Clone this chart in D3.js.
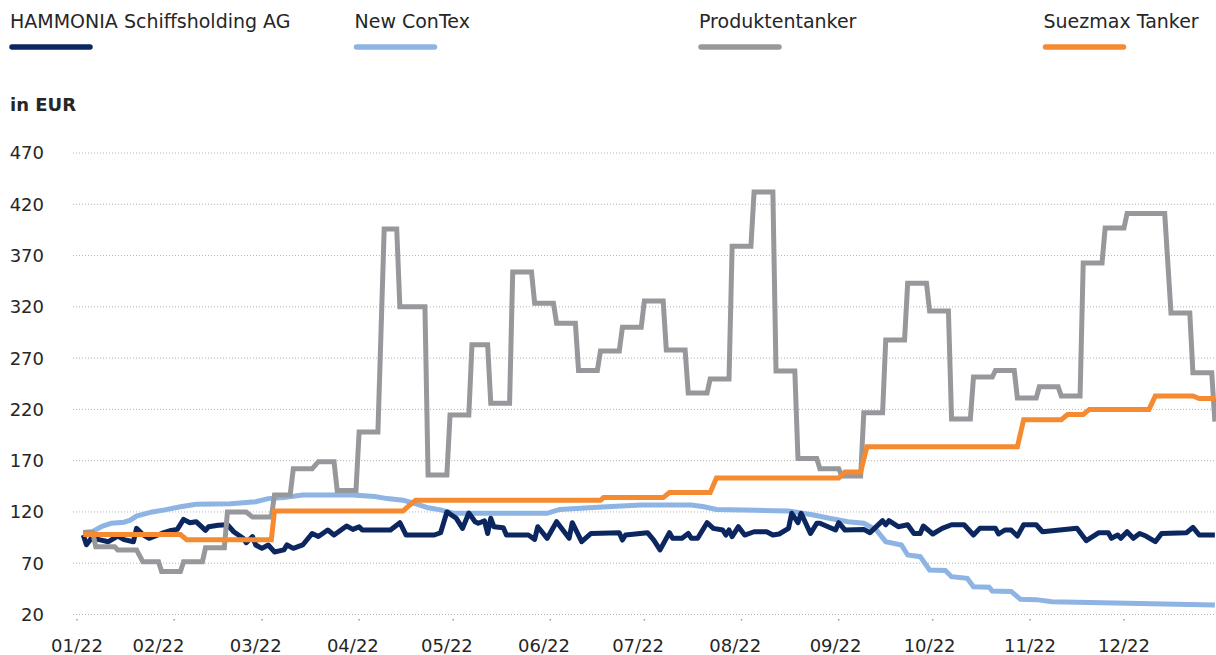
<!DOCTYPE html>
<html>
<head>
<meta charset="utf-8">
<script src="https://cdn.jsdelivr.net/npm/d3@7"></script>
<style>
  body { margin: 0; background: #fff; }
  svg { display: block; font-family: "DejaVu Sans", Verdana, sans-serif; }
  .tick-label { font-size: 18px; fill: #262626; }
  .legend text { font-size: 19px; fill: #262626; }
</style>
</head>
<body>
<div id="chart"></div>
<script>
var width = 1216;
var height = 655;

// legend / series names
var seriesNames = ["HAMMONIA Schiffsholding AG", "New ConTex", "Produktentanker", "Suezmax Tanker"];
var seriesColors = ["#0c2660", "#8db4e2", "#97989b", "#f68a31"];

// axis labels
var yTicks = [20, 70, 120, 170, 220, 270, 320, 370, 420, 470];
var monthLabels = ["01/22", "02/22", "03/22", "04/22", "05/22", "06/22", "07/22", "08/22", "09/22", "10/22", "11/22", "12/22"];
var monthLabelDates = ["01-01", "01-27", "02-27", "03-30", "04-29", "05-30", "06-29", "07-30", "08-31", "09-30", "11-01", "12-01"];

// values in EUR, [month-day, value], year 2022
var hammonia = [
    ["01-03", 97.5], ["01-04", 88], ["01-06", 96], ["01-08", 93], ["01-11", 91], ["01-14", 96.5],
    ["01-16", 93], ["01-19", 91], ["01-20", 104], ["01-22", 98], ["01-24", 94.3], ["01-28", 99],
    ["01-31", 102], ["02-02", 103], ["02-04", 112.8], ["02-06", 109.5], ["02-08", 110.5], ["02-11", 102],
    ["02-12", 105.6], ["02-15", 107], ["02-18", 107.5], ["02-20", 100.7], ["02-23", 94.3], ["02-24", 90],
    ["02-26", 96], ["02-27", 87.8], ["03-01", 84.5], ["03-03", 87.8], ["03-05", 81], ["03-08", 83],
    ["03-09", 87.8], ["03-11", 84.5], ["03-14", 87.8], ["03-17", 99], ["03-19", 96], ["03-22", 102.4],
    ["03-24", 97.5], ["03-28", 106.3], ["03-30", 103], ["04-01", 105.5], ["04-02", 102.4], ["04-11", 102.4],
    ["04-14", 109.5], ["04-16", 97.5], ["04-25", 97.5], ["04-27", 99.7], ["04-29", 120], ["05-02", 113.8],
    ["05-04", 104], ["05-06", 119], ["05-08", 110.5], ["05-09", 109], ["05-11", 111.3], ["05-12", 99],
    ["05-13", 113.8], ["05-14", 105.6], ["05-17", 104.6], ["05-18", 97.5], ["05-25", 97.5], ["05-27", 93.3],
    ["05-28", 105.6], ["05-31", 94.3], ["06-03", 110.5], ["06-05", 102.4], ["06-07", 94.3], ["06-08", 109.5],
    ["06-11", 91], ["06-14", 99], ["06-23", 99.8], ["06-24", 92.6], ["06-25", 97.5], ["07-02", 99.8],
    ["07-04", 92.6], ["07-06", 83], ["07-09", 99.8], ["07-10", 94.3], ["07-13", 94.3], ["07-15", 99],
    ["07-16", 94.3], ["07-18", 94.3], ["07-21", 109.5], ["07-23", 104], ["07-26", 102.4], ["07-27", 97.5],
    ["07-28", 102.4], ["07-29", 96], ["07-31", 105.6], ["08-02", 97.5], ["08-05", 100.7], ["08-09", 100.7],
    ["08-11", 97.5], ["08-13", 98.5], ["08-16", 104], ["08-17", 118.7], ["08-19", 109.5], ["08-20", 118.7],
    ["08-23", 99], ["08-25", 109], ["08-26", 109], ["08-31", 102.4], ["09-01", 109.5], ["09-03", 102.4],
    ["09-09", 103], ["09-11", 99.8], ["09-15", 111.5], ["09-16", 107.5], ["09-17", 111.5], ["09-20", 105.6],
    ["09-23", 107.5], ["09-25", 99], ["09-27", 99], ["09-28", 106.3], ["10-01", 98.5], ["10-04", 104],
    ["10-07", 107.5], ["10-11", 107.5], ["10-14", 97.5], ["10-16", 104], ["10-21", 104], ["10-22", 98.5],
    ["10-24", 102.4], ["10-26", 102.4], ["10-28", 96.5], ["10-30", 107.5], ["11-03", 107.5], ["11-05", 100.7],
    ["11-16", 104], ["11-19", 92], ["11-23", 99.8], ["11-26", 99.8], ["11-27", 94.3], ["11-29", 97.5],
    ["11-30", 94.3], ["12-02", 100.7], ["12-04", 94.3], ["12-06", 99], ["12-08", 96.5], ["12-11", 91],
    ["12-13", 99], ["12-21", 99.8], ["12-23", 105], ["12-25", 97.5], ["12-30", 97.5]
];

var contex = [
    ["01-03", 100], ["01-06", 101], ["01-09", 106], ["01-12", 109], ["01-16", 110], ["01-18", 112],
    ["01-20", 116], ["01-25", 120], ["01-29", 122], ["02-03", 125], ["02-08", 127.5], ["02-19", 128],
    ["02-27", 130], ["03-03", 133], ["03-08", 134], ["03-14", 136.5], ["03-30", 136.5], ["04-06", 135],
    ["04-10", 133], ["04-15", 131.5], ["04-19", 128], ["04-23", 124], ["04-27", 122], ["05-01", 118.7],
    ["05-31", 118.7], ["06-04", 122.5], ["06-19", 125], ["06-30", 126.7], ["07-16", 126.7], ["07-20", 125],
    ["07-24", 122.5], ["08-06", 121.6], ["08-16", 121], ["08-24", 117], ["08-29", 113.8], ["09-04", 110.5],
    ["09-09", 109], ["09-13", 102.4], ["09-16", 91], ["09-21", 87.8], ["09-23", 78], ["09-27", 76.4],
    ["09-30", 63.4], ["10-05", 63], ["10-07", 56.9], ["10-12", 55.3], ["10-14", 47], ["10-19", 46.6],
    ["10-20", 42.9], ["10-26", 42.5], ["10-29", 34.8], ["11-03", 34.5], ["11-08", 32.5], ["12-30", 29.3]
];

var produkt = [
    ["01-03", 100], ["01-06", 100], ["01-07", 86], ["01-13", 86], ["01-14", 83], ["01-20", 83],
    ["01-22", 71.5], ["01-27", 71.5], ["01-28", 62], ["02-03", 62], ["02-04", 71.5], ["02-10", 71.5],
    ["02-11", 85], ["02-17", 85], ["02-18", 120], ["02-24", 120], ["02-26", 115], ["03-04", 115],
    ["03-05", 136.5], ["03-10", 136.5], ["03-11", 162], ["03-17", 162], ["03-19", 169], ["03-24", 169],
    ["03-25", 141], ["03-31", 141], ["04-01", 198], ["04-07", 198], ["04-09", 396], ["04-13", 396],
    ["04-14", 320], ["04-22", 320], ["04-23", 156], ["04-29", 156], ["04-30", 214.5], ["05-06", 214.5],
    ["05-07", 283], ["05-12", 283], ["05-13", 226], ["05-19", 226], ["05-20", 354], ["05-26", 354],
    ["05-27", 323.5], ["06-02", 323.5], ["06-03", 304], ["06-09", 304], ["06-10", 258], ["06-16", 258],
    ["06-17", 277], ["06-23", 277], ["06-24", 300], ["06-30", 300], ["07-01", 325.6], ["07-07", 325.6],
    ["07-08", 278], ["07-14", 278], ["07-15", 236], ["07-21", 236], ["07-22", 249.6], ["07-28", 249.6],
    ["07-29", 379], ["08-04", 379], ["08-05", 432], ["08-11", 432], ["08-12", 257.5], ["08-18", 257.5],
    ["08-19", 172], ["08-25", 172], ["08-26", 162], ["09-01", 162], ["09-02", 155], ["09-08", 155],
    ["09-09", 216.7], ["09-15", 216.7], ["09-16", 287.6], ["09-22", 287.6], ["09-23", 343], ["09-29", 343],
    ["09-30", 316], ["10-06", 316], ["10-07", 210.7], ["10-13", 210.7], ["10-14", 251.6], ["10-20", 251.6],
    ["10-21", 258], ["10-27", 258], ["10-28", 231], ["11-03", 231], ["11-04", 242], ["11-10", 242],
    ["11-11", 233], ["11-17", 233], ["11-18", 362.7], ["11-24", 362.7], ["11-25", 396.8], ["12-01", 396.8],
    ["12-02", 411], ["12-14", 411], ["12-16", 314], ["12-22", 314], ["12-23", 255.8], ["12-29", 255.8],
    ["12-30", 208]
];

var suezmax = [
    ["01-03", 98], ["02-03", 98], ["02-05", 93], ["03-04", 93], ["03-05", 121], ["04-15", 121],
    ["04-19", 131.5], ["06-17", 131.5], ["06-18", 134], ["07-07", 134], ["07-09", 139], ["07-22", 139],
    ["07-24", 153], ["09-01", 153], ["09-03", 159], ["09-08", 159], ["09-10", 183.5], ["10-28", 183.5],
    ["10-30", 210], ["11-11", 210], ["11-13", 215], ["11-18", 215], ["11-20", 220], ["12-09", 220],
    ["12-11", 233], ["12-23", 233], ["12-25", 230.5], ["12-30", 230.5]
];

var parseDay = function (s) { return d3.timeParse("%Y-%m-%d")("2022-" + s); };

var svg = d3.select("#chart")
    .append("svg")
    .attr("width", width)
    .attr("height", height);

// scale
var x = d3.scaleTime()
    .domain([new Date(2022, 0, 1), new Date(2022, 11, 31)])
    .range([77, 1218]);

var y = d3.scaleLinear()
    .domain([20, 470])
    .range([614.5, 153]);

// grid
svg.append("g")
    .selectAll("line")
    .data(yTicks)
    .join("line")
    .attr("x1", 73)
    .attr("x2", width)
    .attr("y1", d => y(d))
    .attr("y2", d => y(d))
    .attr("stroke", "#b4b4b4")
    .attr("stroke-width", 1)
    .attr("stroke-dasharray", "1,2");

// y labels
svg.append("g")
    .selectAll("text")
    .data(yTicks)
    .join("text")
    .attr("class", "tick-label")
    .attr("x", 44)
    .attr("y", d => y(d))
    .attr("dy", "0.36em")
    .attr("text-anchor", "end")
    .text(d => d);

// title---Y
svg.append("text")
    .attr("x", 10)
    .attr("y", 111)
    .style("font-size", "18px")
    .style("font-weight", "bold")
    .style("fill", "#262626")
    .text("in EUR");

// month ticks
svg.append("g")
    .selectAll("rect")
    .data(d3.timeMonth.range(new Date(2022, 0, 1), new Date(2023, 0, 1)))
    .join("rect")
    .attr("x", d => x(d) - 0.75)
    .attr("y", 619)
    .attr("width", 1.5)
    .attr("height", 1.5)
    .attr("fill", "#999");

// x labels
svg.append("g")
    .selectAll("text")
    .data(monthLabels)
    .join("text")
    .attr("class", "tick-label")
    .attr("x", (d, i) => x(parseDay(monthLabelDates[i])))
    .attr("y", 652)
    .attr("text-anchor", "middle")
    .text(d => d);

var line = d3.line()
    .x(d => x(parseDay(d[0])))
    .y(d => y(d[1]));

// drawing order: New ConTex, HAMMONIA, Produktentanker, Suezmax
var series = [hammonia, contex, produkt, suezmax];
[1, 0, 2, 3].forEach(function (i) {
    svg.append("path")
        .datum(series[i])
        .attr("fill", "none")
        .attr("stroke", seriesColors[i])
        .attr("stroke-width", 5)
        .attr("stroke-linejoin", i === 0 ? "round" : "miter")
        .attr("stroke-miterlimit", 2)
        .attr("d", line);
});

// legend
var glegend = svg.selectAll(".legend")
    .data(seriesNames)
    .join("g")
    .attr("class", "legend")
    .attr("transform", (d, i) => "translate(" + (10 + i * 344.5) + ",0)");

glegend.append("text")
    .attr("x", 0)
    .attr("y", 28)
    .text(d => d);

glegend.append("line")
    .attr("x1", 2)
    .attr("x2", 80)
    .attr("y1", 47)
    .attr("y2", 47)
    .attr("stroke", (d, i) => seriesColors[i])
    .attr("stroke-width", 5.5)
    .attr("stroke-linecap", "round");
</script>
</body>
</html>
